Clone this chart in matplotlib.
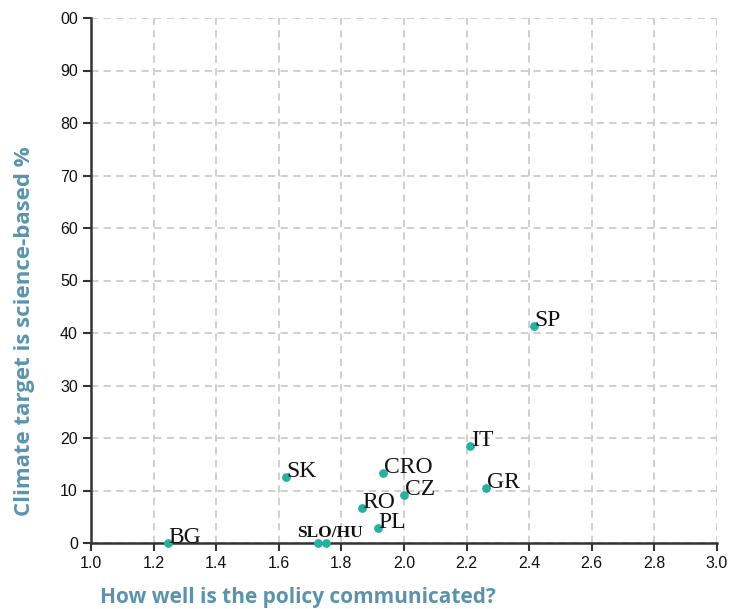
import matplotlib.pyplot as plt

# data
countries = ["BG", "SLO", "HU", "SK", "CRO", "CZ", "RO", "PL", "GR", "IT", "SP"]
communication = [1.246, 1.725, 1.75, 1.623, 1.933, 2.0, 1.866, 1.917, 2.262, 2.211, 2.415]
science_based = [0.0, 0.0, 0.0, 12.6, 13.4, 9.2, 6.7, 2.9, 10.5, 18.5, 41.3]

x_ticks = [1.0, 1.2, 1.4, 1.6, 1.8, 2.0, 2.2, 2.4, 2.6, 2.8, 3.0]
y_ticks = [0, 10, 20, 30, 40, 50, 60, 70, 80, 90, 100]
y_tick_labels = ["0", "10", "20", "30", "40", "50", "60", "70", "80", "90", "00"]

point_color = "#26b0a0"
label_color = "#5b93ad"

fig = plt.figure(figsize=(7.32, 6.09), dpi=100)
ax = fig.add_axes([91 / 732, 66 / 609, 626 / 732, 525 / 609])

ax.scatter(communication, science_based, s=28, color=point_color, zorder=3, clip_on=False)

for name, x, y in zip(countries, communication, science_based):
    if name in ("SLO", "HU"):
        continue
    ax.annotate(name, (x, y), xytext=(0.5, 0), textcoords="offset points",
                ha="left", va="baseline", fontsize=17,
                family="Liberation Serif", color="#111111", zorder=4)

# SLO and HU share one label
slo_x = (communication[1] + communication[2]) / 2
ax.annotate("SLO/HU", (slo_x, 0), xytext=(6, 4.5), textcoords="offset points",
            ha="center", va="baseline", fontsize=12.5, fontweight="bold",
            family="Liberation Serif", color="#111111", zorder=4)

ax.set_xlim(1.0, 3.0)
ax.set_ylim(0, 100)
ax.set_xticks(x_ticks)
ax.set_xticklabels([f"{t:.1f}" for t in x_ticks])
ax.set_yticks(y_ticks)
ax.set_yticklabels(y_tick_labels)

ax.grid(True, color="#cccccc", linestyle=(0, (4, 3)), linewidth=1.3)
ax.set_axisbelow(True)

for side in ("top", "right"):
    ax.spines[side].set_visible(False)
for side in ("left", "bottom"):
    ax.spines[side].set_color("#333333")
    ax.spines[side].set_linewidth(1.8)

ax.tick_params(direction="out", length=6, width=1.5, color="#333333",
               labelsize=11.5, labelcolor="#111111")
for lab in ax.get_xticklabels() + ax.get_yticklabels():
    lab.set_family("Liberation Sans")

ax.set_xlabel("How well is the policy communicated?", fontsize=15, fontweight="bold",
              family="Open Sans", color=label_color)
ax.set_ylabel("Climate target is science-based %", fontsize=16, fontweight="bold",
              family="Open Sans", color=label_color)
ax.yaxis.set_label_coords(-0.09, 0.404)
ax.xaxis.set_label_coords(0.014, -0.104)
ax.xaxis.label.set_horizontalalignment("left")
ax.xaxis.label.set_verticalalignment("center")

fig.savefig("out.png", dpi=100)
